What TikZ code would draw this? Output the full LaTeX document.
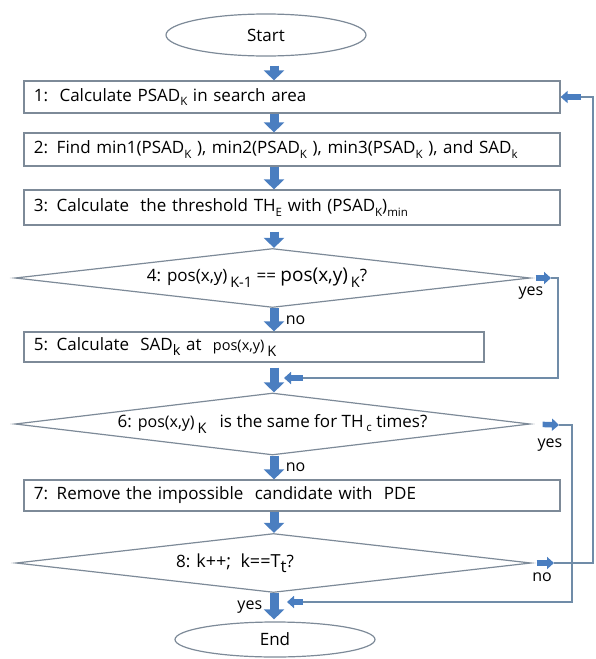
\documentclass[tikz,border=0pt]{standalone}
\usepackage{fontspec}
\setmainfont{Open Sans}
\usetikzlibrary{shapes,positioning,calc,arrows.meta}
\definecolor{flowblue}{RGB}{74,126,192}
\definecolor{edgegray}{RGB}{125,138,152}
\definecolor{linegray}{RGB}{112,140,168}
\newcommand{\dn}[1]{\raisebox{-0.45ex}{\fontsize{11.5}{11.5}\selectfont #1}}
\newcommand{\Dn}[2]{\raisebox{-#1}{\fontsize{14.5}{14.5}\selectfont #2}}
\newcommand{\fs}[2]{{\fontsize{#1}{#1}\selectfont #2}}

\begin{document}
\begin{tikzpicture}[x=1pt,y=-1pt,
    font=\fontsize{17}{20}\selectfont,
    stepbox/.style={rectangle,draw=edgegray,line width=1.2pt,fill=white,minimum height=32pt,inner xsep=10pt,align=left},
    decision/.style={diamond,draw=edgegray,line width=1.2pt,fill=white,minimum width=515pt,minimum height=59pt,aspect=8.7,inner sep=0pt},
    terminal/.style={ellipse,draw=edgegray,line width=1.2pt,fill=white,minimum width=200pt,minimum height=42pt},
    flowarrow/.style={draw=flowblue,line width=9pt,-{Triangle[width=20pt,length=10pt]}},
    retarrow/.style={draw=flowblue,line width=5.5pt,-{Triangle[width=12pt,length=7pt]}},
    backline/.style={draw=linegray,line width=1.2pt},
    lbl/.style={font=\fontsize{16}{18}\selectfont}
    ]
    \useasboundingbox (0,0) rectangle (596,659);
    \coordinate (axis) at (274,0);
    % steps
    \node [terminal](start) at (266,35) {Start};
    \node [stepbox,text width=516pt](b1) at (292,97) {1:\ \ Calculate PSAD\dn{K} in search area};
    \node [stepbox,text width=516pt,minimum height=33pt](b2) at (292,149.5) {2: Find min1(PSAD\dn{K} ), min2(PSAD\dn{K} ), min3(PSAD\dn{K} ), and SAD\dn{k}};
    \node [stepbox,text width=516pt,minimum height=35pt](b3) at (292,207.5) {3: Calculate\ \ the threshold TH\dn{E} with (PSAD\dn{K})\dn{min}};
    \node [decision](d4) at (272.5,278) {\hspace*{-31pt}4: pos(x,y)\,\Dn{0.7ex}{K-1} == \fs{19}{pos(x,y)}\,\Dn{0.6ex}{K}?};
    \node [stepbox,text width=440pt,minimum height=30pt](b5) at (254,347) {5: Calculate\ \ SAD\Dn{0.5ex}{k} at\ \ \fs{14.5}{pos(x,y)}\,\Dn{0.6ex}{K}};
    \node [decision,minimum height=62pt](d6) at (272.5,424) {6: \fs{16}{pos(x,y)}\,\Dn{0.7ex}{K}\ \ \ is the same for TH\,\dn{c} times?};
    \node [stepbox,text width=516pt,minimum height=31pt](b7) at (292,495.5) {7: Remove the impossible\ \ candidate with\ \ PDE};
    \node [decision](d8) at (273.5,563) {\hspace*{-77pt}8: \fs{18}{k++;\ \ k==T}\Dn{0.6ex}{\fs{17}{t}}?};
    \node [terminal,minimum height=35pt](end) at (275,639.5) {End};
    % main flow
    \draw [flowarrow,shorten <=9pt] (start.south -| axis) -- (b1.north -| axis);
    \draw [flowarrow] (b1.south -| axis) -- (b2.north -| axis);
    \draw [flowarrow] (b2.south -| axis) -- (b3.north -| axis);
    \draw [flowarrow,shorten <=6pt] (b3.south -| axis) -- (d4.north -| axis);
    \draw [flowarrow] (d4.south -| axis) -- node[right=4pt,lbl]{no} (b5.north -| axis);
    \draw [flowarrow,shorten <=5pt] (b5.south -| axis) -- (d6.north -| axis);
    \draw [flowarrow] (d6.south -| axis) -- node[right=4pt,lbl]{no} (b7.north -| axis);
    \draw [flowarrow] (b7.south -| axis) -- (d8.north -| axis);
    \draw [flowarrow,shorten >=2pt] (d8.south -| axis) -- node[left=4pt,lbl]{yes} (end.north -| axis);
    % loop from 4
    \coordinate (a4) at (551,278);
    \coordinate (c4) at (558,378);
    \coordinate (e4) at (303,378);
    \coordinate (j4) at (284,378);
    \draw [retarrow,shorten <=5pt] (d4.east) -- (a4);
    \draw [backline] (a4) -| (c4) -- (e4);
    \draw [retarrow] (e4) -- (j4);
    \node [lbl](yes4) at (531,293) {yes};
    % loop from 6
    \coordinate (a6) at (559,425);
    \coordinate (c6) at (572,602);
    \coordinate (e6) at (303,602);
    \coordinate (j6) at (287,602);
    \draw [retarrow,shorten <=12pt] (d6.east) -- (a6);
    \draw [backline] (a6) -| (c6) -- (e6);
    \draw [retarrow] (e6) -- (j6);
    \node [lbl](yes6) at (550,445) {yes};
    % loop from 8
    \coordinate (a8) at (554,563);
    \coordinate (c8) at (593,97);
    \coordinate (e8) at (581,97);
    \draw [retarrow,shorten <=5pt] (d8.east) -- (a8);
    \draw [backline] (a8) -| (c8) -- (e8);
    \draw [retarrow] (e8) -- (b1.east);
    \node [lbl](no8) at (542,577) {no};
\end{tikzpicture}
\end{document}
